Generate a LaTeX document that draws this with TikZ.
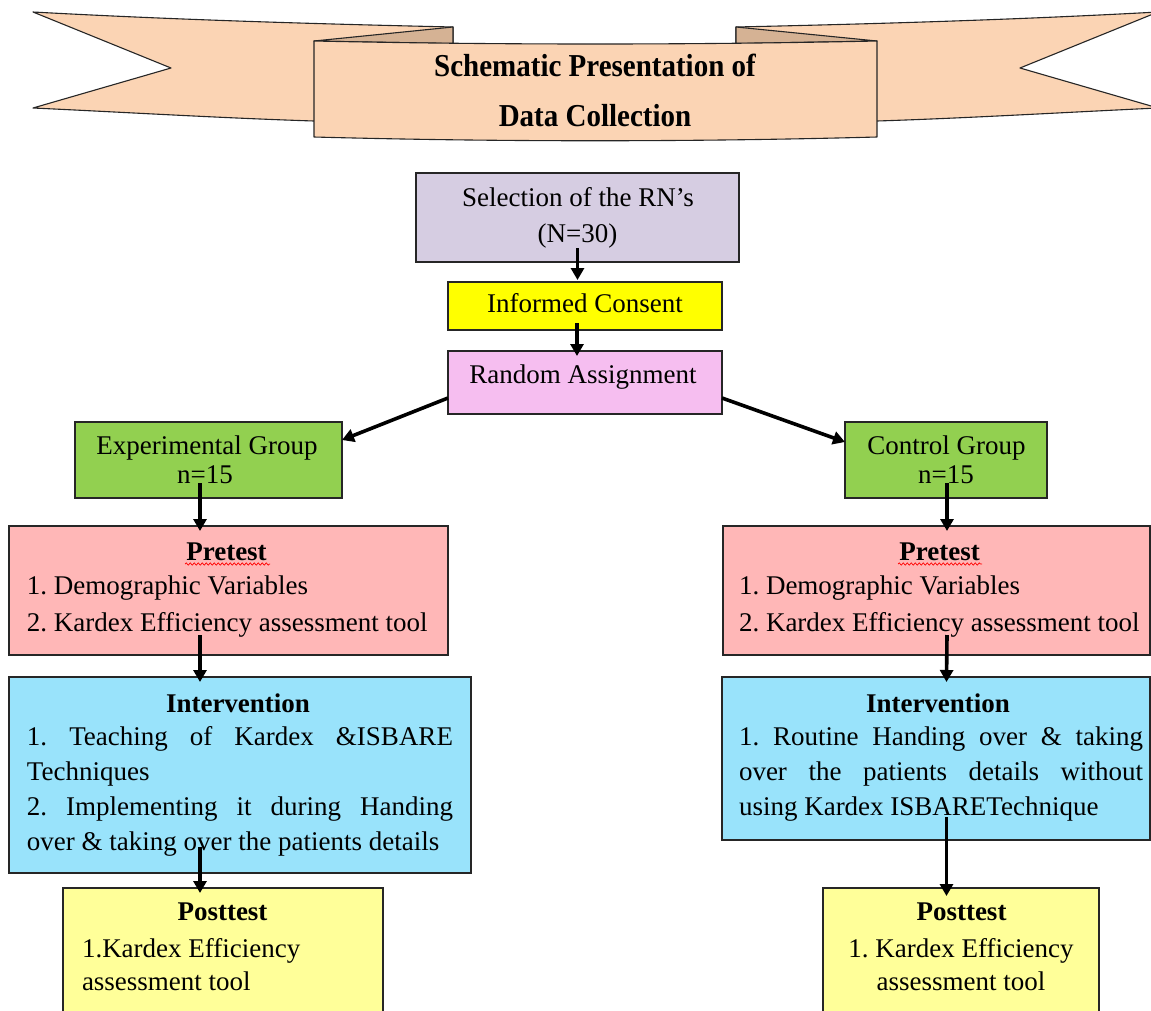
\documentclass[tikz,border=0pt]{standalone}
\usepackage{fontspec}
\setmainfont{Liberation Serif}
\usetikzlibrary{arrows.meta,decorations.pathmorphing}
\definecolor{bannerc}{HTML}{FBD4B4}
\definecolor{foldc}{HTML}{D5B294}
\definecolor{lavc}{HTML}{D6CDE2}
\definecolor{yelc}{HTML}{FFFF00}
\definecolor{pinkc}{HTML}{F6BEF0}
\definecolor{greenc}{HTML}{92D050}
\definecolor{prec}{HTML}{FFB7B7}
\definecolor{intc}{HTML}{99E3FB}
\definecolor{postc}{HTML}{FFFF99}
\frenchspacing
\begin{document}
\begin{tikzpicture}[x=1pt,y=-1pt,
  box/.style={draw=black!85, line width=1.3pt, rectangle, inner sep=0pt, outer sep=0pt, anchor=north west},
  txt/.style={inner sep=0pt, outer sep=0pt, font=\fontsize{27}{34}\selectfont},
  btxt/.style={inner sep=0pt, outer sep=0pt, font=\fontsize{27}{34}\selectfont\bfseries},
  ttxt/.style={inner sep=0pt, outer sep=0pt, font=\fontsize{29}{36}\selectfont\bfseries},
  arr/.style={line width=3.6pt, -{Triangle[width=13pt,length=12pt]}},
  bannerline/.style={draw=black!85, line width=1.1pt, line join=round},
  squig/.style={red, line width=0.7pt, decorate, decoration={snake, amplitude=1.1pt, segment length=4pt}}
]
\clip (0,0) rectangle (1151,1010);
\fill[white] (0,0) rectangle (1151,1010);

% ---------- banner ----------
\filldraw[bannerline, fill=bannerc] (33,12) .. controls (180,20) and (320,24) .. (453,27) -- (453,100) -- (314,121) .. controls (220,118) and (120,112) .. (33,108) -- (171,68) -- cycle;
\filldraw[bannerline, fill=foldc] (314,41) -- (453,27) -- (453,43.5) -- cycle;
\filldraw[bannerline, fill=bannerc] (1158,12) .. controls (1011,20) and (871,24) .. (736,27) -- (736,100) -- (877,121) .. controls (971,118) and (1071,112) .. (1158,108) -- (1020,68) -- cycle;
\filldraw[bannerline, fill=foldc] (877,41) -- (736,27) -- (736,43.5) -- cycle;
\filldraw[bannerline, fill=bannerc] (314,41) .. controls (500,45) and (690,45) .. (877,41) -- (877,137) .. controls (690,142) and (500,142) .. (314,137) -- cycle;
\node[ttxt, anchor=base] (ttl1) at (595,76) {\scalebox{1}[1.1]{Schematic Presentation of}};
\node[ttxt, anchor=base] (ttl2) at (595,126) {\scalebox{1}[1.1]{Data Collection}};

% ---------- boxes ----------
\node[box, fill=lavc, minimum width=323pt, minimum height=89pt] (sel) at (416,173) {};
\node[box, fill=yelc, minimum width=274pt, minimum height=48pt] (cons) at (448,282) {};
\node[box, fill=pinkc, minimum width=274pt, minimum height=63pt] (rand) at (448,351) {};
\node[box, fill=greenc, minimum width=267pt, minimum height=76pt] (exp) at (75,422) {};
\node[box, fill=greenc, minimum width=202pt, minimum height=76pt] (ctl) at (845,422) {};
\node[box, fill=prec, minimum width=439pt, minimum height=129pt] (preL) at (9,526) {};
\node[box, fill=prec, minimum width=427pt, minimum height=129pt] (preR) at (723,526) {};
\node[box, fill=intc, minimum width=462pt, minimum height=196pt] (intL) at (9,677) {};
\node[box, fill=intc, minimum width=428pt, minimum height=163pt] (intR) at (722,677) {};
\node[box, fill=postc, minimum width=320pt, minimum height=135pt] (postL) at (63,888) {};
\node[box, fill=postc, minimum width=276pt, minimum height=135pt] (postR) at (823,888) {};

% ---------- texts ----------
\node[txt, anchor=base] (s1) at (578,206) {Selection of the RN’s};
\node[txt, anchor=base] (s2) at (577.5,242) {(N=30)};
\node[txt, anchor=base] (c1) at (585,312) {Informed Consent};
\node[txt, anchor=base] (r1) at (583,383) {Random Assignment};
\node[txt, anchor=base] (e1) at (207,454) {Experimental Group};
\node[txt, anchor=base] (e2) at (205,483) {n=15};
\node[txt, anchor=base] (g1) at (946.5,454) {Control Group};
\node[txt, anchor=base] (g2) at (946,483) {n=15};

\node[btxt, anchor=base] (pl0) at (226.5,560) {Pretest};
\node[txt, anchor=base west] (pl1) at (27,594) {1. Demographic Variables};
\node[txt, anchor=base west] (pl2) at (27,631) {2. Kardex Efficiency assessment tool};
\node[btxt, anchor=base] (pr0) at (939.5,560) {Pretest};
\node[txt, anchor=base west] (pr1) at (739,594) {1. Demographic Variables};
\node[txt, anchor=base west] (pr2) at (739,631) {2. Kardex Efficiency assessment tool};
\draw[squig] (185,564) -- (270,564);
\draw[squig] (898,564) -- (982,564);

\node[btxt, anchor=base] (il0) at (238,712) {Intervention};
\node[txt, anchor=base west] (il1) at (27,745) {\makebox[426pt][s]{1. Teaching of Kardex \&ISBARE}};
\node[txt, anchor=base west] (il2) at (27,780) {Techniques};
\node[txt, anchor=base west] (il3) at (27,815) {\makebox[426pt][s]{2. Implementing it during Handing}};
\node[txt, anchor=base west] (il4) at (27,850) {over \& taking over the patients details};
\node[btxt, anchor=base] (ir0) at (938,712) {Intervention};
\node[txt, anchor=base west] (ir1) at (739,745) {\makebox[404pt][s]{1. Routine Handing over \& taking}};
\node[txt, anchor=base west] (ir2) at (739,780) {\makebox[404pt][s]{over the patients details without}};
\node[txt, anchor=base west] (ir3) at (739,815) {using Kardex ISBARETechnique};

\node[btxt, anchor=base] (ol0) at (222.5,920) {Posttest};
\node[txt, anchor=base west] (ol1) at (82,957) {1.Kardex Efficiency};
\node[txt, anchor=base west] (ol2) at (82,990) {assessment tool};
\node[btxt, anchor=base] (or0) at (961.5,920) {Posttest};
\node[txt, anchor=base] (or1) at (961,957) {1. Kardex Efficiency};
\node[txt, anchor=base] (or2) at (961,990) {assessment tool};

% ---------- arrows ----------
\draw[arr] ([yshift=14pt]sel.south) -- ([yshift=2pt]sel.south |- cons.north);
\draw[arr] ([xshift=-8pt,yshift=7pt]cons.south) -- ([xshift=-8pt,yshift=-5pt]rand.north);
\draw[arr] ([yshift=-15.5pt]rand.west) -- ([yshift=20pt]exp.east);
\draw[arr] ([yshift=-15.5pt]rand.east) -- ([yshift=18pt]ctl.west);
\draw[arr] ([xshift=-8.5pt,yshift=15pt]exp.south) -- ([xshift=-28.5pt,yshift=-5pt]preL.north);
\draw[arr] ([xshift=1pt,yshift=15pt]ctl.south) -- ([xshift=10.5pt,yshift=-5pt]preR.north);
\draw[arr] ([xshift=-28.5pt,yshift=20pt]preL.south) -- ([xshift=-40pt,yshift=-5pt]intL.north);
\draw[arr] ([xshift=10.5pt,yshift=20pt]preR.south) -- ([xshift=10.5pt,yshift=-5pt]intR.north);
\draw[arr] ([xshift=-40pt,yshift=26pt]intL.south) -- ([xshift=-23pt,yshift=-5pt]postL.north);
\draw[arr] ([xshift=10.5pt,yshift=23pt]intR.south) -- ([xshift=-14.5pt,yshift=-8pt]postR.north);
\end{tikzpicture}
\end{document}
